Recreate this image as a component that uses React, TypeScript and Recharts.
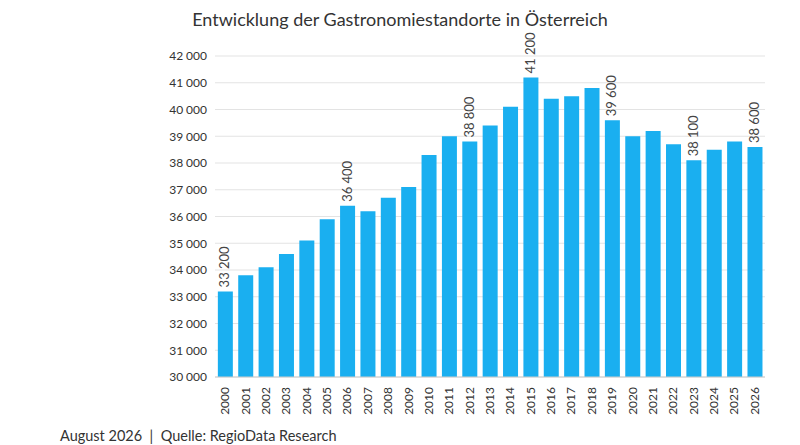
import { BarChart, Bar, XAxis, YAxis, CartesianGrid, LabelList } from 'recharts'

const years = ['2000','2001','2002','2003','2004','2005','2006','2007','2008','2009','2010','2011','2012','2013','2014','2015','2016','2017','2018','2019','2020','2021','2022','2023','2024','2025','2026']
const values = [33200,33800,34100,34600,35100,35900,36400,36200,36700,37100,38300,39000,38800,39400,40100,41200,40400,40500,40800,39600,39000,39200,38700,38100,38500,38800,38600]
const labeledYears = ['2000','2006','2012','2015','2019','2023','2026']
const yTicks = [30000,31000,32000,33000,34000,35000,36000,37000,38000,39000,40000,41000,42000]

const fmt = (v: number) => String(v).replace(/\B(?=(\d{3})+(?!\d))/g, '\u202F')

const data = years.map((y, i) => ({ year: y, value: values[i] }))

const font = 'Lato, "Open Sans", sans-serif'

const BarLabel = (props: any) => {
  const { x, y, width, index } = props
  if (!labeledYears.includes(years[index])) return null
  const cx = x + width / 2 + 4
  const cy = y - 4
  return (
    <text x={cx} y={cy} transform={`rotate(-90 ${cx} ${cy})`} textAnchor="start" fontSize={13} fill="#444" fontFamily={font}>
      {fmt(values[index])}
    </text>
  )
}

const XTick = (props: any) => {
  const { x, y, payload } = props
  return (
    <text x={x + 4} y={y + 2} transform={`rotate(-90 ${x + 4} ${y + 2})`} textAnchor="end" fontSize={12} fill="#333" fontFamily={font}>
      {payload.value}
    </text>
  )
}

export default function App() {
  return (
    <div style={{ position: 'absolute', left: 0, top: 0, width: 800, height: 445, background: '#fff', fontFamily: font }}>
      <div style={{ position: 'absolute', top: 8, width: 800, textAlign: 'center', fontSize: 18, color: '#333' }}>
        Entwicklung der Gastronomiestandorte in Österreich
      </div>
      <BarChart width={800} height={445} data={data} margin={{ top: 56, right: 35, bottom: 20, left: 150 }} barCategoryGap="14%">
        <CartesianGrid vertical={false} stroke="#e3e3e3" />
        <XAxis dataKey="year" interval={0} tick={<XTick />} tickLine={false} axisLine={{ stroke: '#ccc' }} height={48} />
        <YAxis domain={[30000, 42000]} ticks={yTicks} tickFormatter={fmt} tick={{ fontSize: 12, fill: '#333', fontFamily: font }} axisLine={false} tickLine={false} width={65} />
        <Bar dataKey="value" fill="#1aaff0" isAnimationActive={false}>
          <LabelList dataKey="value" content={<BarLabel />} />
        </Bar>
      </BarChart>
      <div style={{ position: 'absolute', left: 60, top: 427, fontSize: 14.5, color: '#333' }}>
        August 2026 &nbsp;|&nbsp; Quelle: RegioData Research
      </div>
    </div>
  )
}
